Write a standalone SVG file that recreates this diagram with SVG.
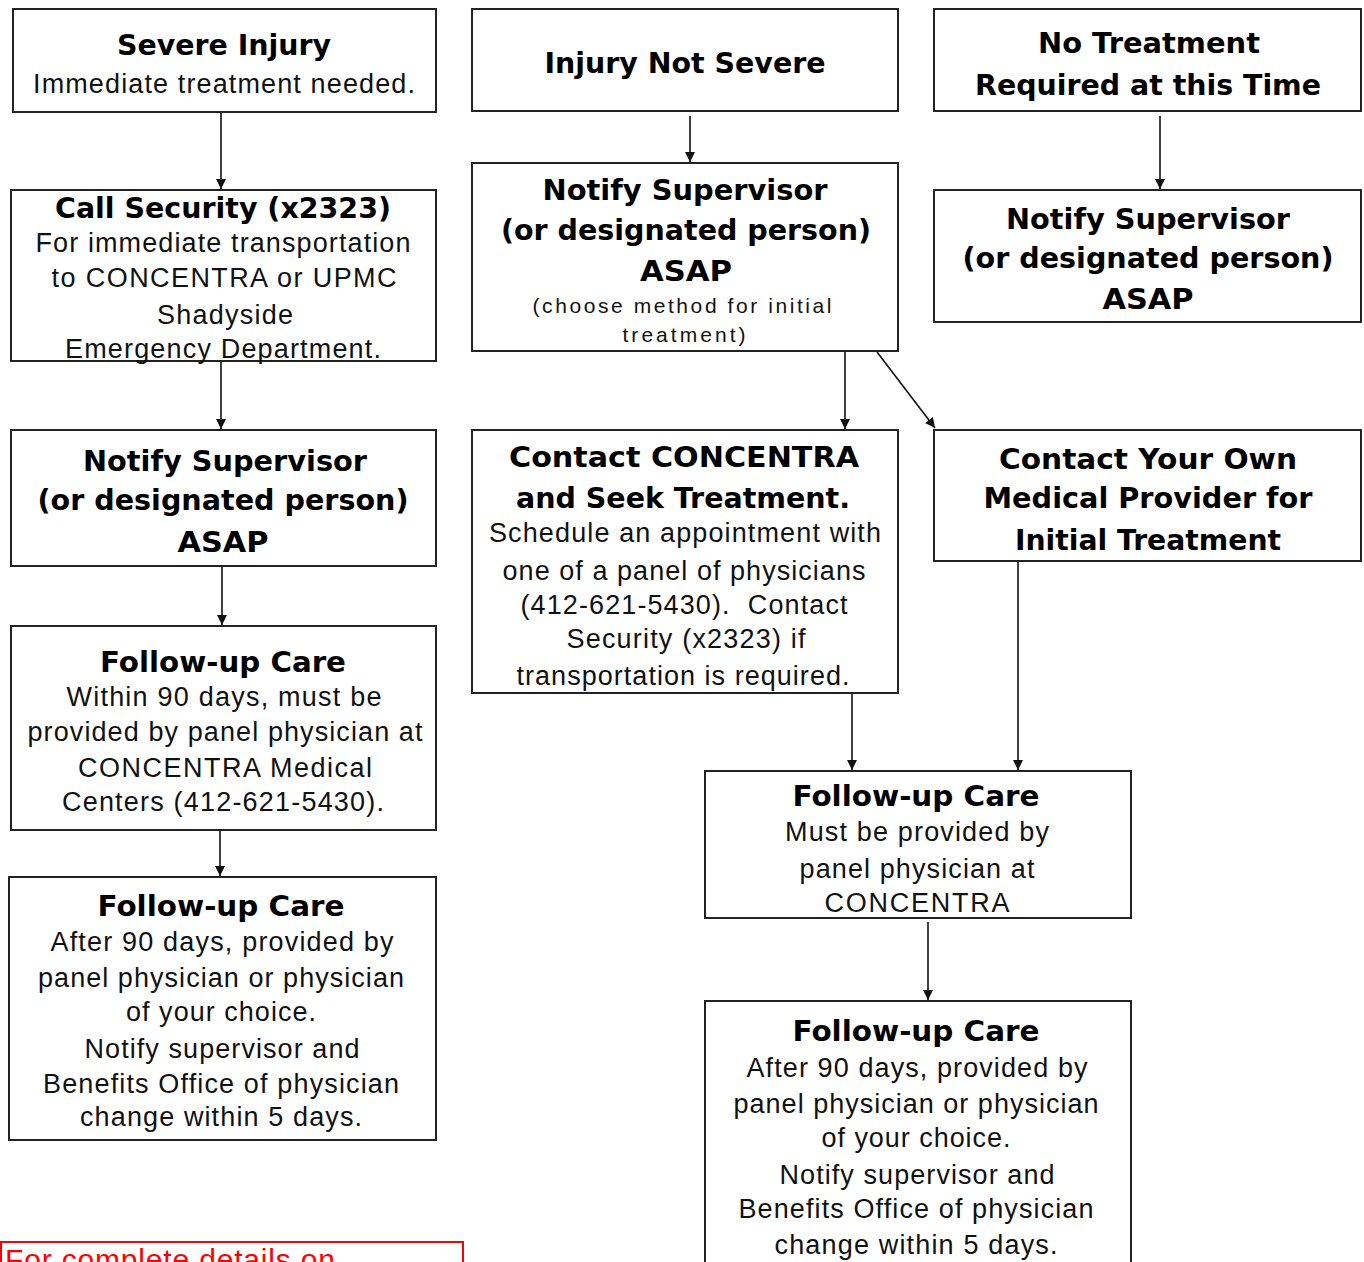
<svg xmlns="http://www.w3.org/2000/svg" width="1364" height="1262" viewBox="0 0 1364 1262">
<style>
.box{fill:#fff;stroke:#222;stroke-width:2}
.b{font-family:"DejaVu Sans",Verdana,sans-serif;font-weight:bold;font-size:28px;fill:#000;text-anchor:middle}
.r{font-family:"Liberation Sans",Arial,sans-serif;font-size:27px;fill:#111;text-anchor:middle}
.s{font-family:"Liberation Sans",Arial,sans-serif;font-size:21px;fill:#111;text-anchor:middle}
.c{stroke:#111;stroke-width:1.6;fill:none;marker-end:url(#ah)}
</style>
<defs>
<marker id="ah" markerUnits="userSpaceOnUse" markerWidth="12" markerHeight="12" refX="10" refY="5" orient="auto">
<path d="M0,0 L10,5 L0,10 Z" fill="#111"/>
</marker>
</defs>
<rect width="1364" height="1262" fill="#fff"/>
<g id="connectors">
<line class="c" x1="221" y1="112" x2="221" y2="189"/>
<line class="c" x1="221" y1="361" x2="221" y2="429"/>
<line class="c" x1="222" y1="566" x2="222" y2="625"/>
<line class="c" x1="220" y1="831" x2="220" y2="876"/>
<line class="c" x1="690" y1="116" x2="690" y2="162"/>
<line class="c" x1="1160" y1="116" x2="1160" y2="189"/>
<line class="c" x1="845" y1="352" x2="845" y2="429"/>
<line class="c" x1="877" y1="352" x2="935" y2="428"/>
<line class="c" x1="852" y1="694" x2="852" y2="770"/>
<line class="c" x1="1018" y1="562" x2="1018" y2="770"/>
<line class="c" x1="928" y1="922" x2="928" y2="1000"/>
</g>
<g id="severe-injury">
<rect class="box" x="13" y="9" width="423" height="103"/>
<text class="b" x="224" y="55" textLength="214" lengthAdjust="spacingAndGlyphs">Severe Injury</text>
<text class="r" x="224" y="93" textLength="382" lengthAdjust="spacing">Immediate treatment needed.</text>
</g>
<g id="call-security">
<rect class="box" x="11" y="190" width="425" height="171"/>
<text class="b" x="223" y="218" textLength="336" lengthAdjust="spacingAndGlyphs">Call Security (x2323)</text>
<text class="r" x="223" y="252" textLength="375" lengthAdjust="spacing">For immediate transportation</text>
<text class="r" x="224" y="287" textLength="345" lengthAdjust="spacing">to CONCENTRA or UPMC</text>
<text class="r" x="225" y="324" textLength="136" lengthAdjust="spacing">Shadyside</text>
<text class="r" x="223" y="358" textLength="316" lengthAdjust="spacing">Emergency Department.</text>
</g>
<g id="notify-left">
<rect class="box" x="11" y="430" width="425" height="136"/>
<text class="b" x="225" y="471" textLength="284" lengthAdjust="spacingAndGlyphs">Notify Supervisor</text>
<text class="b" x="223" y="510" textLength="371" lengthAdjust="spacingAndGlyphs">(or designated person)</text>
<text class="b" x="223" y="552" textLength="91" lengthAdjust="spacingAndGlyphs">ASAP</text>
</g>
<g id="followup-left-1">
<rect class="box" x="11" y="626" width="425" height="204"/>
<text class="b" x="223" y="672" textLength="246" lengthAdjust="spacingAndGlyphs">Follow-up Care</text>
<text class="r" x="224" y="706" textLength="315" lengthAdjust="spacing">Within 90 days, must be</text>
<text class="r" x="225" y="741" textLength="395" lengthAdjust="spacing">provided by panel physician at</text>
<text class="r" x="225" y="777" textLength="294" lengthAdjust="spacing">CONCENTRA Medical</text>
<text class="r" x="223" y="811" textLength="322" lengthAdjust="spacing">Centers (412-621-5430).</text>
</g>
<g id="followup-left-2">
<rect class="box" x="9" y="877" width="427" height="263"/>
<text class="b" x="221" y="916" textLength="247" lengthAdjust="spacingAndGlyphs">Follow-up Care</text>
<text class="r" x="222" y="951" textLength="343" lengthAdjust="spacing">After 90 days, provided by</text>
<text class="r" x="221" y="987" textLength="366" lengthAdjust="spacing">panel physician or physician</text>
<text class="r" x="221" y="1021" textLength="190" lengthAdjust="spacing">of your choice.</text>
<text class="r" x="222" y="1058" textLength="275" lengthAdjust="spacing">Notify supervisor and</text>
<text class="r" x="221" y="1093" textLength="356" lengthAdjust="spacing">Benefits Office of physician</text>
<text class="r" x="221" y="1126" textLength="282" lengthAdjust="spacing">change within 5 days.</text>
</g>
<g id="injury-not-severe">
<rect class="box" x="472" y="9" width="426" height="102"/>
<text class="b" x="685" y="73" textLength="281" lengthAdjust="spacingAndGlyphs">Injury Not Severe</text>
</g>
<g id="notify-middle">
<rect class="box" x="472" y="163" width="426" height="188"/>
<text class="b" x="685" y="200" textLength="285" lengthAdjust="spacingAndGlyphs">Notify Supervisor</text>
<text class="b" x="686" y="240" textLength="370" lengthAdjust="spacingAndGlyphs">(or designated person)</text>
<text class="b" x="686" y="281" textLength="92" lengthAdjust="spacingAndGlyphs">ASAP</text>
<text class="s" x="682" y="313" textLength="299" lengthAdjust="spacing">(choose method for initial</text>
<text class="s" x="684" y="342" textLength="123" lengthAdjust="spacing">treatment)</text>
</g>
<g id="contact-concentra">
<rect class="box" x="472" y="430" width="426" height="263"/>
<text class="b" x="684" y="467" textLength="350" lengthAdjust="spacingAndGlyphs">Contact CONCENTRA</text>
<text class="b" x="683" y="508" textLength="334" lengthAdjust="spacingAndGlyphs">and Seek Treatment.</text>
<text class="r" x="685" y="542" textLength="392" lengthAdjust="spacing">Schedule an appointment with</text>
<text class="r" x="684" y="580" textLength="363" lengthAdjust="spacing">one of a panel of physicians</text>
<text class="r" x="684" y="614" textLength="327" lengthAdjust="spacing" xml:space="preserve">(412-621-5430).  Contact</text>
<text class="r" x="686" y="648" textLength="239" lengthAdjust="spacing">Security (x2323) if</text>
<text class="r" x="683" y="685" textLength="333" lengthAdjust="spacing">transportation is required.</text>
</g>
<g id="no-treatment">
<rect class="box" x="934" y="9" width="427" height="102"/>
<text class="b" x="1149" y="53" textLength="222" lengthAdjust="spacingAndGlyphs">No Treatment</text>
<text class="b" x="1148" y="95" textLength="346" lengthAdjust="spacingAndGlyphs">Required at this Time</text>
</g>
<g id="notify-right">
<rect class="box" x="934" y="190" width="427" height="132"/>
<text class="b" x="1148" y="229" textLength="284" lengthAdjust="spacingAndGlyphs">Notify Supervisor</text>
<text class="b" x="1148" y="268" textLength="371" lengthAdjust="spacingAndGlyphs">(or designated person)</text>
<text class="b" x="1148" y="309" textLength="91" lengthAdjust="spacingAndGlyphs">ASAP</text>
</g>
<g id="contact-own-provider">
<rect class="box" x="934" y="430" width="427" height="131"/>
<text class="b" x="1148" y="469" textLength="298" lengthAdjust="spacingAndGlyphs">Contact Your Own</text>
<text class="b" x="1148" y="508" textLength="329" lengthAdjust="spacingAndGlyphs">Medical Provider for</text>
<text class="b" x="1148" y="550" textLength="266" lengthAdjust="spacingAndGlyphs">Initial Treatment</text>
</g>
<g id="followup-middle-1">
<rect class="box" x="705" y="771" width="426" height="147"/>
<text class="b" x="916" y="806" textLength="247" lengthAdjust="spacingAndGlyphs">Follow-up Care</text>
<text class="r" x="917" y="841" textLength="264" lengthAdjust="spacing">Must be provided by</text>
<text class="r" x="917" y="878" textLength="235" lengthAdjust="spacing">panel physician at</text>
<text class="r" x="917" y="912" textLength="185" lengthAdjust="spacing">CONCENTRA</text>
</g>
<g id="followup-middle-2">
<rect class="box" x="705" y="1001" width="426" height="280"/>
<text class="b" x="916" y="1041" textLength="247" lengthAdjust="spacingAndGlyphs">Follow-up Care</text>
<text class="r" x="917" y="1077" textLength="341" lengthAdjust="spacing">After 90 days, provided by</text>
<text class="r" x="916" y="1113" textLength="365" lengthAdjust="spacing">panel physician or physician</text>
<text class="r" x="916" y="1147" textLength="189" lengthAdjust="spacing">of your choice.</text>
<text class="r" x="917" y="1184" textLength="275" lengthAdjust="spacing">Notify supervisor and</text>
<text class="r" x="916" y="1218" textLength="355" lengthAdjust="spacing">Benefits Office of physician</text>
<text class="r" x="916" y="1254" textLength="283" lengthAdjust="spacing">change within 5 days.</text>
</g>
<g id="details-note">
<rect x="1" y="1242" width="462" height="40" fill="#fff" stroke="#f00" stroke-width="2"/>
<text x="5" y="1270" font-family="Liberation Sans, Arial, sans-serif" font-size="30" fill="#f00" textLength="330" lengthAdjust="spacing">For complete details on</text>
</g>
</svg>
